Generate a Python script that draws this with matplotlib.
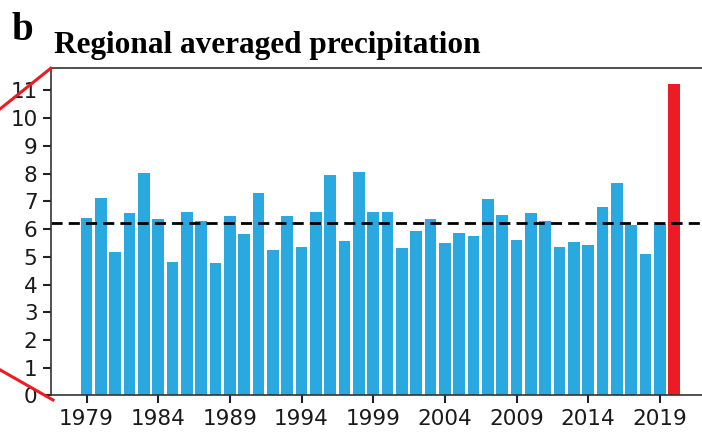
import matplotlib
matplotlib.use('Agg')
from matplotlib import pyplot as plt
from matplotlib.lines import Line2D

years = list(range(1979, 2021))
precip = [6.41, 7.12, 5.19, 6.58, 8.01, 6.35, 4.81, 6.63, 6.29, 4.77,
          6.47, 5.81, 7.29, 5.25, 6.47, 5.36, 6.63, 7.95, 5.58, 8.06,
          6.63, 6.63, 5.31, 5.92, 6.35, 5.48, 5.86, 5.75, 7.08, 6.52,
          5.59, 6.58, 6.30, 5.36, 5.53, 5.42, 6.81, 7.67, 6.16, 5.10,
          6.19, 11.24]
clim_mean = 6.23
xtick_years = list(range(1979, 2020, 5))
yticks = list(range(0, 12))

blue = '#29a9e0'
red = '#ed1c24'
colors = [red if y == 2020 else blue for y in years]

W, H = 702, 432
fig = plt.figure(figsize=(W / 100, H / 100), dpi=100)
ax = fig.add_axes([50.7 / W, 1 - 395.4 / H, (710 - 50.7) / W, (395.4 - 68.3) / H])

ax.bar(years, precip, width=0.82, color=colors, linewidth=0)
ax.axhline(clim_mean, color='black', linestyle='--', linewidth=2, dashes=(4, 2.2))

ax.set_xlim(1976.5, 2022.5)
ax.set_ylim(0, 11.8)
ax.set_xticks(xtick_years)
ax.set_yticks(yticks)
ax.tick_params(labelsize=15.5, length=6, width=1.5, color='#222222', labelcolor='#1a1a1a')
ax.spines['right'].set_visible(False)
for s in ['left', 'bottom', 'top']:
    ax.spines[s].set_color('#333333')
    ax.spines[s].set_linewidth(1.2)

# panel letter and title, placed in pixel terms
fig.text(54 / W, 1 - 53.5 / H, 'Regional averaged precipitation', fontsize=22.5,
         fontweight='bold', family='Liberation Serif', va='baseline')
fig.text(11 / W, 1 - 40 / H, 'b', fontsize=28, fontweight='bold',
         family='Liberation Serif', va='baseline')

# red connector lines leading in from the left
fig.add_artist(Line2D([-5, 50.7], [H - 113, H - 68.3], transform=None,
                      color=red, linewidth=2.2, clip_on=False))
fig.add_artist(Line2D([-5, 53], [H - 367, H - 400], transform=None,
                      color=red, linewidth=2.2, clip_on=False))

fig.savefig('out.png', dpi=100)
